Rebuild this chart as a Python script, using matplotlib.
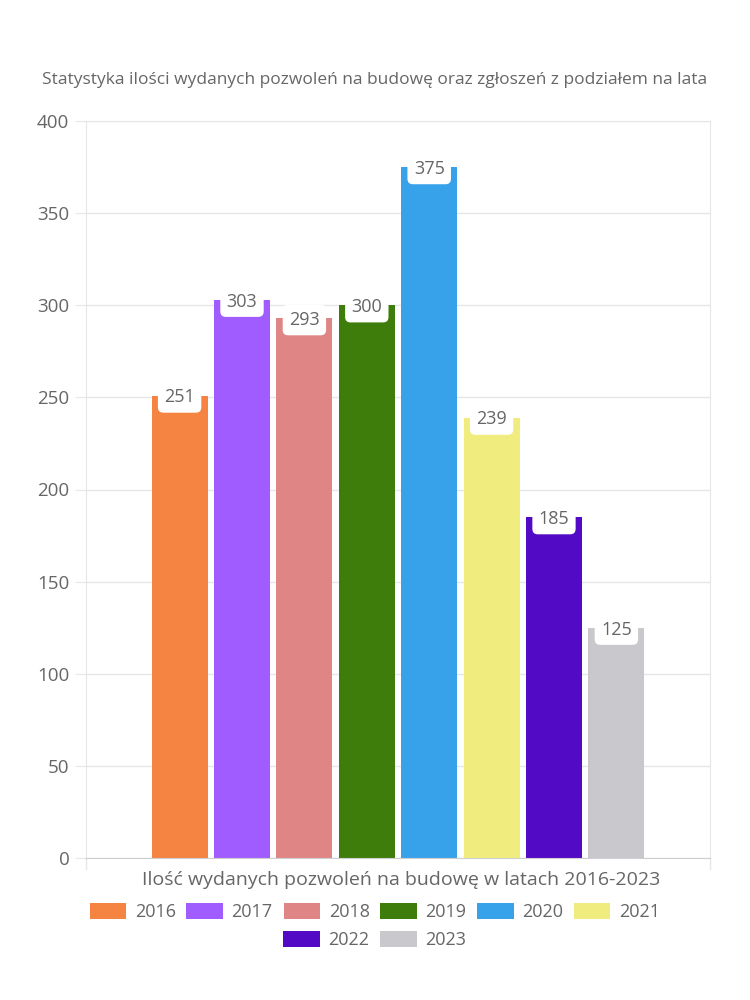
import matplotlib
matplotlib.use("Agg")
import matplotlib.pyplot as plt
from matplotlib.patches import Patch

# data
years = ["2016", "2017", "2018", "2019", "2020", "2021", "2022", "2023"]
values = [251, 303, 293, 300, 375, 239, 185, 125]
colors = ["#F58442", "#A05CFF", "#E08585", "#3E7D0B",
          "#37A2EA", "#F0EC7D", "#520AC4", "#C9C9CD"]
yticks = [0, 50, 100, 150, 200, 250, 300, 350, 400]

title = "Statystyka ilości wydanych pozwoleń na budowę oraz zgłoszeń z podziałem na lata"
xlabel = "Ilość wydanych pozwoleń na budowę w latach 2016-2023"

plt.rcParams['font.family'] = ['Open Sans', 'DejaVu Sans']
grey = "#666666"
gridc = "#E6E6E6"

fig = plt.figure(figsize=(7.5, 10), dpi=100)
ax = fig.add_axes([86 / 750, 1 - 858 / 1000, 624 / 750, 737 / 1000])

x = list(range(len(years)))
ax.bar(x, values, width=0.9, color=colors, zorder=2)

ax.set_xlim(-1.5, 8.5)
ax.set_ylim(0, 400)
ax.set_yticks(yticks)
ax.set_yticklabels([str(v) for v in yticks], fontsize=13.5, color=grey)
ax.set_xticks([])
ax.grid(axis='y', color=gridc, linewidth=1, zorder=0)
for s in ['left', 'right', 'top']:
    ax.spines[s].set_color(gridc)
ax.spines['bottom'].set_color("#CFCFCF")
ax.tick_params(axis='y', length=8, color=gridc, pad=4)

# little ticks under the bottom axis at both ends
for xe in (-1.5, 8.5):
    ax.plot([xe, xe], [0, -6], color=gridc, lw=1, clip_on=False)

# value labels
for xi, v in zip(x, values):
    ax.text(xi, v - 1, str(v), ha='center', va='center', fontsize=13, color=grey,
            zorder=3,
            bbox=dict(boxstyle="round,pad=0.35,rounding_size=0.3",
                      fc="white", ec="none"))

fig.text(0.5, 0.92, title, ha='center', va='center', fontsize=12.5, color=grey)
fig.text(0.535, 0.12, xlabel, ha='center', va='center', fontsize=14, color=grey)

handles = [Patch(facecolor=c, edgecolor='none') for c in colors]
leg_kw = dict(frameon=False, fontsize=13, handlelength=2.0, handleheight=1.0,
              handletextpad=0.5, columnspacing=0.6, labelcolor=grey)
fig.legend(handles[:6], years[:6], loc='center', bbox_to_anchor=(0.5, 0.088),
           ncol=6, **leg_kw)
fig.legend(handles[6:], years[6:], loc='center', bbox_to_anchor=(0.5, 0.06),
           ncol=2, **leg_kw)

fig.savefig("out.png", dpi=100)
